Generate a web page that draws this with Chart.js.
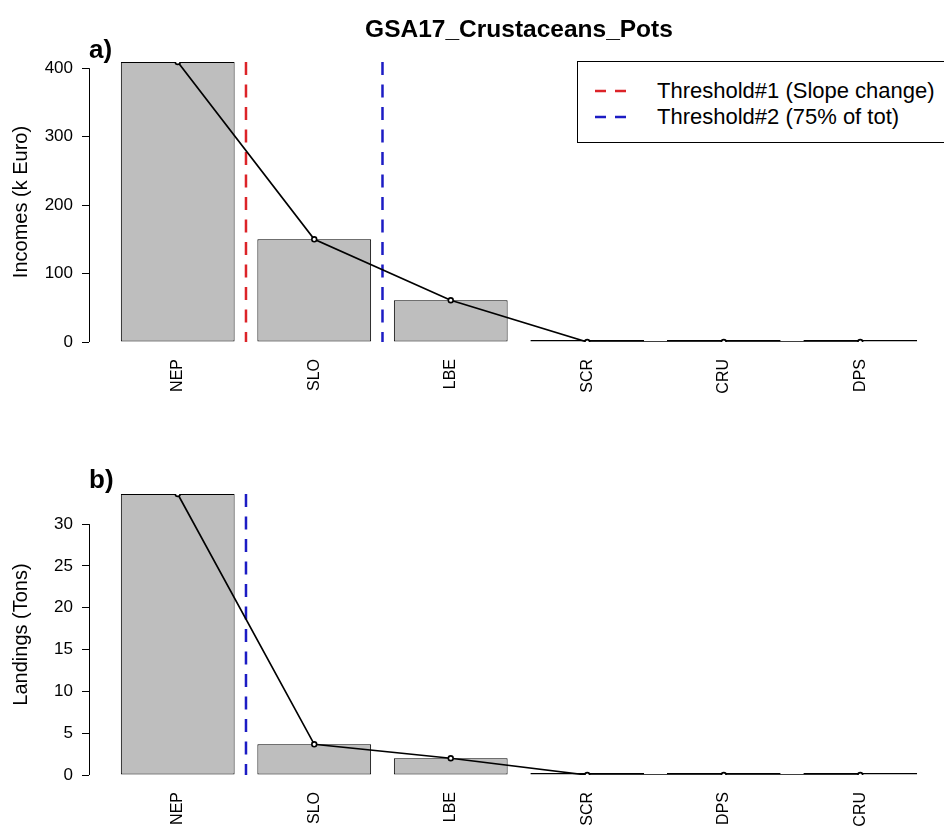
<!DOCTYPE html>
<html>
<head>
<meta charset="utf-8">
<title>GSA17_Crustaceans_Pots</title>
<script src="https://cdn.jsdelivr.net/npm/chart.js@4.4.1/dist/chart.umd.min.js"></script>
<style>
  html, body { margin: 0; padding: 0; background: #fff; }
  body {
    width: 944px; height: 828px; overflow: hidden; position: relative;
    font-family: "Liberation Sans", Arial, sans-serif; color: #000;
  }
  canvas { position: absolute; left: 0; }
  #chartA { top: 0; }
  #chartB { top: 414px; }
  .title {
    position: absolute; left: 0; width: 1038px; top: 17px;
    text-align: center; font-weight: bold; font-size: 24.5px; line-height: 24px;
  }
  .tag { position: absolute; left: 89px; font-weight: bold; font-size: 26px; line-height: 26px; }
  .legend {
    position: absolute; left: 577px; top: 61px; width: 420px; height: 80px;
    border: 1px solid #000; background: #fff;
  }
  .legend .row { position: absolute; left: 0; height: 26px; width: 100%; }
  .legend svg { position: absolute; left: 17px; top: 0; }
  .legend span { position: absolute; left: 79px; top: 0; font-size: 22px; line-height: 26px; white-space: nowrap; }
</style>
</head>
<body>
<canvas id="chartA" width="960" height="414"></canvas>
<canvas id="chartB" width="960" height="414"></canvas>

<div class="title">GSA17_Crustaceans_Pots</div>
<div class="tag" style="top:36px">a)</div>
<div class="tag" style="top:466px">b)</div>

<div class="legend">
  <div class="row" style="top:16px">
    <svg width="40" height="26"><line x1="0" y1="13" x2="33" y2="13" stroke="#dc2328" stroke-width="2.5" stroke-dasharray="11 9"/></svg>
    <span>Threshold#1 (Slope change)</span>
  </div>
  <div class="row" style="top:42px">
    <svg width="40" height="26"><line x1="0" y1="13" x2="33" y2="13" stroke="#1c1cc4" stroke-width="2.5" stroke-dasharray="11 9"/></svg>
    <span>Threshold#2 (75% of tot)</span>
  </div>
</div>

<script>
// panel a: incomes
const speciesA = ['NEP', 'SLO', 'LBE', 'SCR', 'CRU', 'DPS'];
const incomes = [409, 150, 61, 0, 0, 0];
const incomeTicks = [0, 100, 200, 300, 400];

// panel b: landings
const speciesB = ['NEP', 'SLO', 'LBE', 'SCR', 'DPS', 'CRU'];
const landings = [33.6, 3.67, 2.0, 0, 0, 0];
const landingTicks = [0, 5, 10, 15, 20, 25, 30];

// thresholds sit right after the named species
const thresholdsA = ['NEP', 'SLO'];
const thresholdsB = ['NEP'];

const RED = '#dc2328';
const BLUE = '#1c1cc4';
const BAR = 1, SPACE = 0.2;   // barplot units

Chart.defaults.font.family = '"Liberation Sans", Arial, sans-serif';
Chart.defaults.color = '#000';

function panel(id, cats, values, yTicks, yTitle, thresholds, colors, padTop, xAxisH) {
  const xs = cats.map((c, i) => SPACE + BAR / 2 + i * (BAR + SPACE));
  const lo = SPACE, hi = SPACE + cats.length * (BAR + SPACE) - SPACE;
  const ext = (hi - lo) * 0.04;
  const yMax = Math.max(...values);
  const pts = xs.map((x, i) => ({ x: x, y: values[i] }));

  const lines = thresholds.map((name, k) => {
    const tx = xs[cats.indexOf(name)] + (BAR + SPACE) / 2;
    return {
      type: 'line',
      data: [{ x: tx, y: yMax }, { x: tx, y: 0 }],
      borderColor: colors[k],
      borderWidth: 2.5,
      borderDash: [13, 9.5],
      pointRadius: 0,
      order: 1
    };
  });

  // R style axis line, only from first to last tick
  const axisLine = {
    id: 'axisLine',
    afterDraw(chart) {
      const s = chart.scales.y, ctx = chart.ctx;
      const x = Math.round(s.right) + 0.5;
      ctx.save();
      ctx.strokeStyle = '#000';
      ctx.lineWidth = 1;
      ctx.beginPath();
      ctx.moveTo(x, s.getPixelForValue(yTicks[0]));
      ctx.lineTo(x, s.getPixelForValue(yTicks[yTicks.length - 1]));
      ctx.stroke();
      ctx.restore();
    }
  };

  return new Chart(document.getElementById(id), {
    type: 'bar',
    data: {
      datasets: [
        {
          type: 'line',
          data: pts,
          borderColor: '#000',
          borderWidth: 1.7,
          tension: 0,
          pointRadius: 2.4,
          pointBorderWidth: 1.6,
          pointBackgroundColor: '#fff',
          pointBorderColor: '#000',
          order: 0
        },
        ...lines,
        {
          type: 'bar',
          data: pts,
          backgroundColor: c => (c.raw && c.raw.y === 0 ? '#222' : '#bebebe'),
          borderColor: '#000',
          borderWidth: 1,
          borderSkipped: false,
          minBarLength: 2,
          categoryPercentage: 1,
          barPercentage: BAR / (BAR + SPACE),
          order: 2
        }
      ]
    },
    options: {
      responsive: false,
      animation: false,
      devicePixelRatio: 1,
      layout: { padding: { top: padTop, right: 11, left: 0, bottom: 0 } },
      plugins: { legend: { display: false }, tooltip: { enabled: false } },
      scales: {
        x: {
          type: 'linear',
          min: lo - ext,
          max: hi + ext,
          offset: false,
          grid: { display: false, drawTicks: false, offset: false },
          border: { display: false },
          afterBuildTicks: s => { s.ticks = xs.map(v => ({ value: v })); },
          afterFit: s => { s.height = xAxisH; },
          ticks: {
            autoSkip: false,
            minRotation: 90,
            maxRotation: 90,
            padding: 17,
            font: { size: 16 },
            callback: (v, i) => cats[i]
          }
        },
        y: {
          type: 'linear',
          min: 0,
          max: yMax,
          afterBuildTicks: s => { s.ticks = yTicks.map(v => ({ value: v })); },
          afterFit: s => { s.width = 89; },
          grid: { drawOnChartArea: false, drawTicks: true, tickLength: 7, color: '#000', lineWidth: 1 },
          border: { display: false },
          ticks: { padding: 9, font: { size: 17 } },
          title: { display: true, text: yTitle, font: { size: 20 }, padding: { top: 9, bottom: 0 } }
        }
      }
    },
    plugins: [axisLine]
  });
}

panel('chartA', speciesA, incomes, incomeTicks, 'Incomes (k Euro)', thresholdsA, [RED, BLUE], 62, 72);
panel('chartB', speciesB, landings, landingTicks, 'Landings (Tons)', thresholdsB, [BLUE], 80, 53);
</script>
</body>
</html>
